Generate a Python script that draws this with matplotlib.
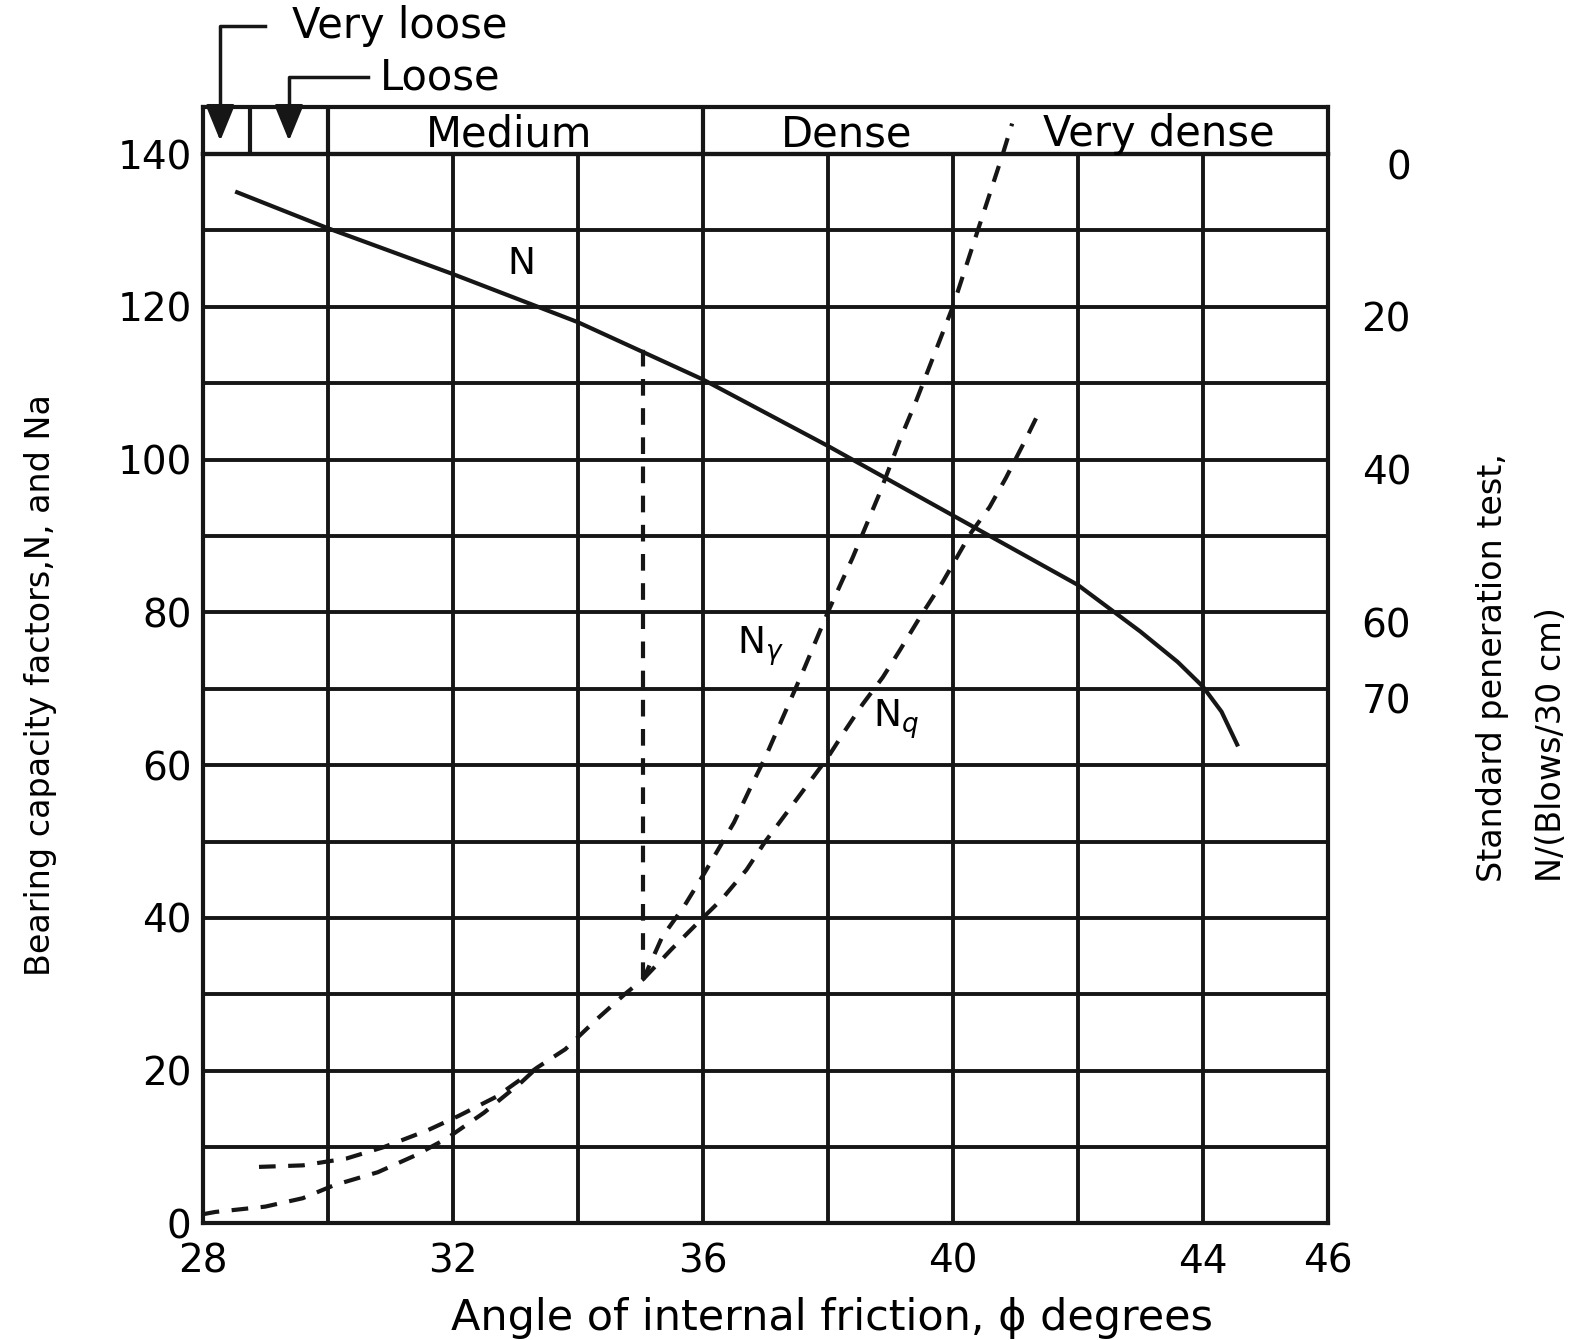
import numpy as np
import matplotlib.pyplot as plt
from matplotlib.ticker import MultipleLocator

plt.rcParams['font.family'] = 'DejaVu Sans'

# curves (phi in degrees)
phi_N = [28.55, 30, 32, 34, 36, 38, 40, 42, 43, 43.6, 44, 44.3, 44.55]
N = [135.0, 130.3, 124.3, 118.0, 110.5, 101.8, 92.7, 83.6, 77.5, 73.5, 70.3, 67.0, 62.7]

phi_Ng = [28.9, 29.6, 30.3, 30.9, 31.6, 32.1, 32.7, 33.35, 33.8, 34.3, 34.75, 35.05,
          35.35, 35.7, 36.0, 36.5, 36.76, 37.0, 37.6, 38.0, 38.4, 38.83, 39.17,
          39.41, 40.0, 40.8, 40.95]
Ng = [7.4, 7.6, 8.5, 10.0, 12.2, 14.1, 16.6, 20.4, 22.8, 26.7, 30.0, 32.0,
      37.5, 41.5, 45.5, 52.5, 57.0, 61.0, 72.2, 80.0, 87.2, 95.6, 102.9,
      107.6, 120.0, 140.0, 144.0]

phi_Nq = [28.0, 28.2, 29.0, 29.6, 30.1, 30.8, 31.4, 31.9, 32.5, 33.1, 33.35, 33.8,
          34.3, 34.75, 35.05, 35.5, 36.0, 36.3, 36.7, 37.0, 37.5, 38.0, 38.29,
          38.56, 38.88, 39.15, 39.47, 39.84, 40.29, 40.59, 40.85, 41.17, 41.41]
Nq = [1.2, 1.5, 2.2, 3.3, 5.0, 6.7, 8.9, 11.1, 14.5, 18.5, 20.4, 22.8,
      26.7, 30.0, 32.0, 35.9, 40.0, 42.4, 46.3, 50.0, 55.5, 61.0, 64.7,
      68.0, 71.5, 75.0, 79.3, 84.0, 90.4, 93.8, 97.6, 102.7, 106.7]

# Nq and Ng run together between these two angles
phi_merge = 33.35
phi_split = 35.05

# vertical dashed line at phi ~ 35
phi_v = [35.05, 35.05]
v_y = [32.0, 114.5]

x_ticks = [28, 32, 36, 40, 44, 46]
y_ticks = [0, 20, 40, 60, 80, 100, 120, 140]
spt_ticks = [0, 20, 40, 60, 70]
spt_zero = 138.7   # left-axis value where SPT N = 0

zone_names = ['Medium', 'Dense', 'Very dense']
zone_x = [32.9, 38.3, 43.3]
zone_edges = [28.75, 30, 36]

ink = '#161616'
lw = 3.0
dash = (4, 3)

fig = plt.figure(figsize=(15.89, 13.40), dpi=100)
ax = fig.add_axes([0.1276, 0.087, 0.708, 0.798])
hx = fig.add_axes([0.1276, 0.885, 0.708, 0.0355])
hx.patch.set_alpha(0)

ax.set_xlim(28, 46)
ax.set_ylim(0, 140)
ax.set_xticks(x_ticks)
ax.set_yticks(y_ticks)
ax.xaxis.set_minor_locator(MultipleLocator(2))
ax.yaxis.set_minor_locator(MultipleLocator(10))
ax.grid(which='both', color=ink, lw=2.8)
ax.set_axisbelow(True)
ax.tick_params(which='both', length=0, labelsize=28)
ax.tick_params(axis='x', pad=14)
ax.tick_params(axis='y', pad=8)
for s in ax.spines.values():
    s.set_linewidth(lw)
    s.set_color(ink)

ax.plot(phi_N, N, color=ink, lw=lw)
ax.plot(phi_Ng, Ng, color=ink, lw=lw, dashes=dash, clip_on=False)
pq = np.array(phi_Nq)
nq = np.array(Nq)
low = pq <= phi_merge
high = pq >= phi_split
ax.plot(pq[low], nq[low], color=ink, lw=lw, dashes=dash)
ax.plot(pq[high], nq[high], color=ink, lw=lw, dashes=dash)
ax.plot(phi_v, v_y, color=ink, lw=lw, dashes=dash)

ax.text(33.1, 125.6, 'N', fontsize=27, ha='center', va='center')
ax.text(36.55, 75.6, r'N$_\gamma$', fontsize=27, ha='left', va='center')
ax.text(38.72, 66.0, r'N$_q$', fontsize=27, ha='left', va='center')

ax.set_xlabel('Angle of internal friction, \u03d5 degrees', fontsize=31, va='center')
ax.xaxis.set_label_coords(0.559, -0.088)

fig.text(0.0255, 0.489, 'Bearing capacity factors,N, and Na', rotation=90,
         fontsize=24, ha='center', va='center')

# right axis: standard penetration test
sec = ax.secondary_yaxis('right', functions=(lambda y: spt_zero - y,
                                             lambda n: spt_zero - n))
sec.set_yticks(spt_ticks)
sec.tick_params(length=0, pad=60, labelsize=28)
for lab in sec.get_yticklabels():
    lab.set_ha('right')
sec.spines['right'].set_visible(False)

fig.text(0.958, 0.342, 'Standard peneration test,\nN/(Blows/30 cm)', rotation=90,
         fontsize=24, ha='center', va='bottom', multialignment='left',
         linespacing=2.0)

# header band with density classes
hx.set_xlim(28, 46)
hx.set_ylim(0, 1)
hx.set_xticks([])
hx.set_yticks([])
for s in hx.spines.values():
    s.set_linewidth(lw)
    s.set_color(ink)
hx.vlines(zone_edges, 0, 1, color=ink, lw=lw)
for name, xc in zip(zone_names, zone_x):
    hx.text(xc, 0.42, name, fontsize=30, ha='center', va='center')

# very loose / loose leaders
hx.plot([28.99, 28.28, 28.28], [2.69, 2.69, 0.7], color=ink, lw=2.5, clip_on=False)
hx.annotate('', xy=(28.28, 0.22), xytext=(28.28, 0.9), annotation_clip=False,
            arrowprops=dict(arrowstyle='-|>,head_length=1.1,head_width=0.45',
                            color=ink, lw=2.5, mutation_scale=20))
hx.text(29.42, 2.69, 'Very loose', fontsize=30, ha='left', va='center', clip_on=False)

hx.plot([30.64, 29.38, 29.38], [1.62, 1.62, 0.7], color=ink, lw=2.5, clip_on=False)
hx.annotate('', xy=(29.38, 0.22), xytext=(29.38, 0.9), annotation_clip=False,
            arrowprops=dict(arrowstyle='-|>,head_length=1.1,head_width=0.45',
                            color=ink, lw=2.5, mutation_scale=20))
hx.text(30.84, 1.62, 'Loose', fontsize=30, ha='left', va='center', clip_on=False)

fig.savefig('out.png', dpi=100)
